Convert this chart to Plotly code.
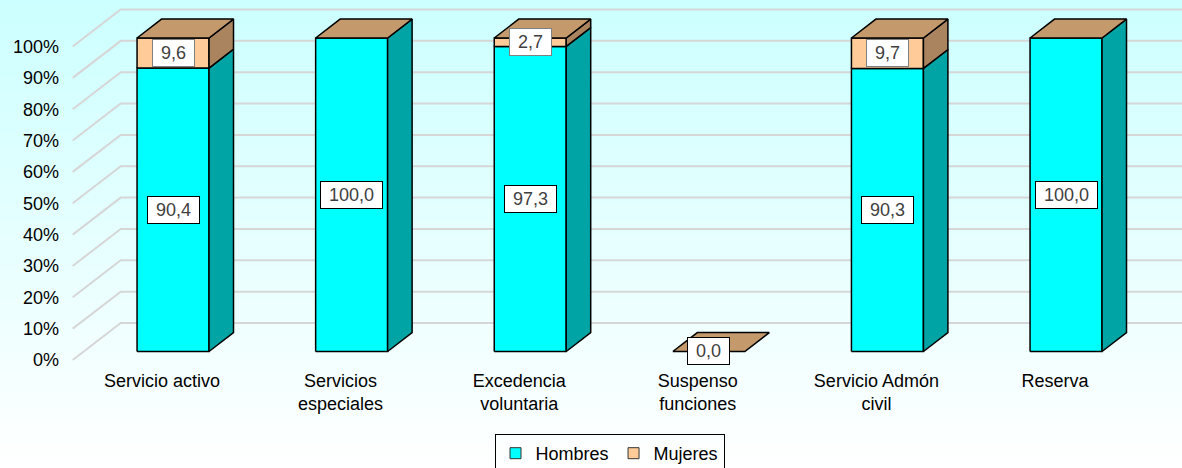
import plotly.graph_objects as go

# ---------------- data ----------------
categories = ["Servicio activo", "Servicios<br>especiales", "Excedencia<br>voluntaria",
              "Suspenso<br>funciones", "Servicio Admón<br>civil", "Reserva"]
hombres = [90.4, 100.0, 97.3, 0.0, 90.3, 100.0]
mujeres = [9.6, 0.0, 2.7, 0.0, 9.7, 0.0]
y_ticks = [0, 10, 20, 30, 40, 50, 60, 70, 80, 90, 100]
y_tick_labels = [f"{t}%" for t in y_ticks]

# ---------------- pseudo-3D geometry (style) ----------------
W = 0.403            # bar width (category units)
ZF, ZB = 0.23, 0.74  # bar front / back depth
DX, DY = 0.2688, 11.8  # projection of full depth
XL = -0.5            # left wall at front
XR = 5.75

FONT = "Liberation Sans, Arial, sans-serif"
C_H_FRONT, C_H_SIDE = "#00FFFF", "#00A4A4"
C_M_FRONT, C_M_SIDE, C_TOP = "#FFCC99", "#A9845E", "#C4996C"
EDGE = dict(color="#000000", width=1.5)


def proj(x, z, v):
    return x + z * DX, v + z * DY


def poly(pts):
    xs, ys = [], []
    for (x, z, v) in pts:
        px, py = proj(x, z, v)
        xs.append(px)
        ys.append(py)
    xs.append(xs[0]); ys.append(ys[0])
    return xs, ys


fig = go.Figure()

# back wall gridlines and left wall diagonals
gx, gy = [], []
for t in y_ticks:
    x0, y0 = proj(XL, 0, t)
    x1, y1 = proj(XL, 1, t)
    gx += [x0, x1, XR, None]
    gy += [y0, y1, y1, None]
fig.add_trace(go.Scatter(x=gx, y=gy, mode="lines", line=dict(color="#D6D6D6", width=2),
                         hoverinfo="skip", showlegend=False))

# faces
faces = {k: ([], []) for k in ["hf", "hs", "mf", "ms", "top"]}


def add(key, pts):
    xs, ys = poly(pts)
    faces[key][0].extend(xs + [None])
    faces[key][1].extend(ys + [None])


for i, (h, m) in enumerate(zip(hombres, mujeres)):
    l, r = i - W / 2, i + W / 2
    for key_f, key_s, b, t in (("hf", "hs", 0, h), ("mf", "ms", h, h + m)):
        if t - b > 0:
            add(key_f, [(l, ZF, b), (r, ZF, b), (r, ZF, t), (l, ZF, t)])
            add(key_s, [(r, ZF, b), (r, ZB, b), (r, ZB, t), (r, ZF, t)])
    T = h + m
    add("top", [(l, ZF, T), (r, ZF, T), (r, ZB, T), (l, ZB, T)])

colors = {"hf": C_H_FRONT, "hs": C_H_SIDE, "mf": C_M_FRONT, "ms": C_M_SIDE, "top": C_TOP}
for key in ["hf", "hs", "mf", "ms", "top"]:
    xs, ys = faces[key]
    fig.add_trace(go.Scatter(x=xs, y=ys, mode="lines", fill="toself", fillcolor=colors[key],
                             line=EDGE, hoverinfo="skip", showlegend=False))

# legend entries
for name, col in (("Hombres", C_H_FRONT), ("Mujeres", C_M_FRONT)):
    fig.add_trace(go.Scatter(x=[None], y=[None], mode="markers", name=name,
                             marker=dict(symbol="square", size=11, color=col,
                                         line=dict(color="#333333", width=1))))

# value labels
NB = "\u00a0"
def fmt(v):
    return NB + f"{v:.1f}".replace(".", ",") + NB

for i, (h, m) in enumerate(zip(hombres, mujeres)):
    x, y = proj(i, ZF, h / 2)
    fig.add_annotation(x=x, y=y, text=fmt(h), showarrow=False, bgcolor="white",
                       bordercolor="#000000", borderwidth=1, borderpad=3,
                       font=dict(family=FONT, size=18, color="#404040"))
    if m > 0:
        x, y = proj(i, ZF, h + m / 2)
        fig.add_annotation(x=x, y=y, text=fmt(m), showarrow=False, bgcolor="white",
                           bordercolor="#808080", borderwidth=1, borderpad=3,
                           font=dict(family=FONT, size=18, color="#404040"))

# background gradient bands
N = 78
H, Wd = 468, 1182
ml, mb, mt = 60, 100, 0
ph = H - mb - mt
pw = Wd - ml
shapes = []
for k in range(N):
    y0p = k * H / N
    y1p = (k + 1) * H / N
    f = (k + 0.5) / N
    c = (int(round(204 + (255 - 204) * f)), 255, 255)
    shapes.append(dict(type="rect", xref="paper", yref="paper", layer="below",
                       x0=(0 - ml) / pw, x1=(Wd - ml) / pw,
                       y0=(ph - y1p + mt) / ph, y1=(ph - y0p + mt) / ph + 0.001,
                       fillcolor=f"rgb{c}", line=dict(width=0)))

fig.update_layout(
    width=Wd, height=H, autosize=False,
    margin=dict(l=ml, r=0, t=mt, b=mb, pad=0, autoexpand=False),
    paper_bgcolor="white", plot_bgcolor="rgba(0,0,0,0)",
    shapes=shapes,
    font=dict(family=FONT, size=18, color="#000000"),
    xaxis=dict(range=[-0.5711, 5.7111], tickvals=list(range(len(categories))),
               ticktext=categories, showgrid=False, zeroline=False, showline=False,
               ticks="", tickfont=dict(size=18, color="#000000"), fixedrange=True,
               automargin=False),
    yaxis=dict(range=[-2.552, 114.83], tickvals=y_ticks, ticktext=y_tick_labels,
               showgrid=False, zeroline=False, showline=False, ticks="",
               tickfont=dict(size=18, color="#000000"), fixedrange=True,
               automargin=False),
    showlegend=True,
    legend=dict(orientation="h", xref="container", yref="container",
                x=609.5 / Wd, xanchor="center", y=1 - 434 / H, yanchor="top",
                bordercolor="#000000", borderwidth=1, bgcolor="rgba(255,255,255,0)",
                font=dict(size=18, color="#000000"), itemwidth=30),
)

fig.write_html("out.html", config={"displayModeBar": False},
               post_script="document.body.style.margin='0';document.body.style.padding='0';")
